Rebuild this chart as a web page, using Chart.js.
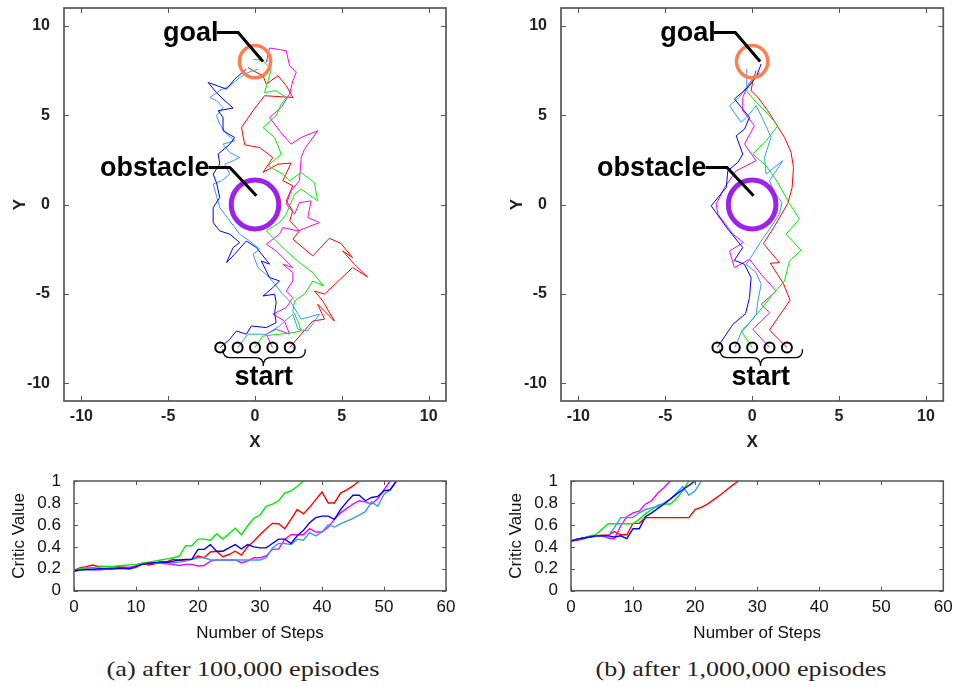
<!DOCTYPE html>
<html>
<head>
<meta charset="utf-8">
<script src="https://cdn.jsdelivr.net/npm/chart.js@4.4.0/dist/chart.umd.min.js"></script>
<style>
    body { margin: 0; background: #fff; width: 958px; height: 687px; position: relative; overflow: hidden; }
    canvas { position: absolute; }
    .cap { position: absolute; font-family: 'Liberation Serif', serif; font-size: 22px; color: #222; white-space: nowrap; transform-origin: center; }
</style>
</head>
<body>
<canvas id="trajA" width="470" height="460" style="left:0;top:0"></canvas>
<canvas id="trajB" width="461" height="460" style="left:497px;top:0"></canvas>
<canvas id="criticA" width="470" height="180" style="left:0;top:470px"></canvas>
<canvas id="criticB" width="461" height="180" style="left:497px;top:470px"></canvas>
<div class="cap" data-w="273" style="left:242.5px;top:669px">(a) after 100,000 episodes</div>
<div class="cap" data-w="291" style="left:741px;top:669px">(b) after 1,000,000 episodes</div>

<script>
// ---- tick labels ----
const trajTicks = [-10, -5, 0, 5, 10];
const stepTicks = [0, 10, 20, 30, 40, 50, 60];
const criticTicks = [0, 0.2, 0.4, 0.6, 0.8, 1];

// ---- start positions ----
const startPts = [[-2, -8], [-1, -8], [0, -8], [1, -8], [2, -8]];

// ---- trajectories after 100,000 episodes (x, y) ----
const blueA = [[-2,-8],[-1.45,-7.54],[-1.07,-7.08],[-0.5,-7.26],[-0.21,-6.8],[0.65,-6.89],[1.22,-6.61],[1.13,-6.05],[1.22,-5.49],[1.13,-5.02],[0.46,-5.12],[1.03,-4.65],[1.41,-4.28],[0.84,-4.09],[0.36,-3.16],[0.84,-3.34],[0.08,-2.41],[-0.5,-2.04],[-1.17,-2.78],[-1.64,-3.25],[-1.26,-2.41],[-0.88,-2.13],[-1.45,-1.66],[-2.03,-1.48],[-2.41,-1.01],[-2.41,-0.17],[-2.03,0.39],[-2.22,1.23],[-2.41,1.7],[-2.03,2.26],[-2.12,2.82],[-1.45,3.38],[-1.17,3.75],[-1.84,4.13],[-1.84,4.87],[-2.12,5.25],[-1.26,5.4],[-1.84,5.9],[-2.22,6.27],[-2.7,6.83],[-1.64,6.46],[-1.17,7.02],[-0.5,7.58]];
const lightBlueA = [[-1,-8],[-0.4,-7.26],[0.65,-7.26],[1.41,-6.8],[2.18,-6.14],[2.47,-6.98],[3.04,-7.08],[3.71,-6.14],[2.66,-6.42],[2.08,-5.49],[1.6,-5.02],[1.22,-4.56],[0.75,-4.0],[0.17,-3.53],[-0.11,-2.78],[0.27,-2.5],[-0.31,-2.04],[-0.88,-1.66],[-1.45,-0.92],[-2.03,-0.17],[-2.41,1.14],[-1.93,1.33],[-1.45,1.7],[-1.74,2.26],[-1.26,2.45],[-0.88,2.63],[-1.45,2.91],[-1.84,3.38],[-1.17,3.57],[-1.64,3.94],[-2.03,4.5],[-2.22,4.97],[-1.84,5.43],[-2.22,5.81],[-2.6,5.99],[-2.03,6.37],[-1.45,6.65],[-0.88,7.11],[-0.4,7.39],[0.17,7.58]];
const greenA = [[0,-8],[0.46,-7.36],[1.41,-7.26],[2.18,-7.17],[2.66,-7.08],[2.47,-6.52],[2.18,-5.96],[2.28,-5.4],[2.85,-5.02],[3.33,-4.28],[3.94,-4.56],[3.33,-3.81],[2.56,-3.25],[1.8,-2.6],[1.03,-1.85],[0.65,-1.48],[1.41,-1.01],[1.8,-0.54],[2.28,0.58],[2.66,0.86],[3.61,0.2],[3.42,1.23],[2.66,1.79],[1.99,1.33],[1.6,1.7],[0.75,2.17],[1.51,2.82],[1.13,3.75],[0.46,4.31],[1.22,4.97],[1.51,5.62],[1.8,5.99],[1.22,6.37],[0.55,6.27],[0.75,6.93],[0.94,7.58],[0.46,8.05],[-0.11,8.14]];
const magentaA = [[1,-8],[0.65,-7.26],[1.22,-6.98],[1.99,-7.26],[1.7,-6.52],[1.03,-6.14],[1.8,-5.77],[2.18,-5.21],[1.8,-4.84],[2.18,-4.28],[2.18,-3.81],[1.6,-3.34],[2.18,-3.53],[1.22,-2.6],[0.65,-2.22],[1.41,-1.66],[1.6,-1.29],[2.47,-1.48],[3.71,-1.01],[3.04,-0.73],[3.23,0.2],[2.56,0.11],[2.28,-0.54],[1.8,0.02],[2.08,0.77],[2.56,1.33],[2.66,2.63],[2.85,3.1],[3.61,4.13],[2.66,3.75],[2.08,3.38],[1.41,4.13],[0.84,4.87],[1.51,5.43],[1.99,6.18],[2.18,6.93],[2.37,7.39],[1.99,7.77],[1.8,8.61],[0.84,8.76],[0.65,7.96]];
const redA = [[2,-8],[2.66,-7.26],[3.33,-6.52],[4.0,-6.42],[3.61,-5.58],[4.57,-6.52],[3.9,-5.4],[3.42,-4.84],[4.0,-5.02],[5.62,-3.53],[6.48,-4.05],[5.72,-3.34],[5.05,-2.6],[5.62,-2.97],[4.95,-2.18],[4.28,-1.89],[3.33,-2.88],[2.18,-1.94],[2.56,-1.48],[2.0,-0.92],[2.18,-0.35],[1.8,0.2],[2.18,1.05],[1.6,1.33],[2.08,2.32],[1.32,2.26],[0.46,1.79],[1.03,2.63],[0.27,3.19],[-0.59,3.34],[-0.78,4.31],[-0.11,5.25],[0.55,6.09],[2.18,5.99],[1.8,6.65],[1.32,7.21],[0.65,6.74],[0.46,7.21],[-0.11,7.49],[-0.4,7.67]];

// ---- trajectories after 1,000,000 episodes (x, y) ----
const blueB = [[-2,-8],[-1.11,-6.71],[-0.38,-6.11],[-0.15,-5.21],[-0.06,-4.09],[-0.44,-3.35],[-1.02,-3.12],[-0.54,-2.41],[-1.4,-1.38],[-2.36,-0.07],[-1.49,0.95],[-1.4,1.89],[-0.82,2.36],[-0.54,2.82],[-0.92,3.85],[-0.44,4.22],[-0.15,4.88],[-0.63,5.44],[-1.02,5.91],[-0.34,6.47],[0.23,7.12],[0.52,7.87]];
const lightBlueB = [[-1,-8],[-0.63,-7.18],[-0.15,-6.62],[0.23,-6.15],[0.33,-5.4],[0.52,-4.47],[0.23,-3.81],[-0.34,-3.35],[0.04,-2.79],[0.52,-2.04],[1.0,-1.38],[1.57,-0.54],[1.72,0.11],[1.28,0.67],[1.0,1.33],[1.76,2.45],[0.8,1.7],[0.71,2.64],[1.09,3.76],[0.61,4.79],[0.23,5.53],[-0.25,4.97],[-0.63,4.6],[-1.3,5.53],[-0.73,6.0],[-0.34,6.56],[-0.31,7.59]];
const greenB = [[0,-8],[-0.63,-7.08],[-0.15,-6.62],[0.42,-5.96],[1.19,-5.03],[1.86,-4.28],[2.15,-3.16],[2.82,-2.56],[1.95,-1.66],[2.72,-0.82],[2.05,0.21],[1.48,1.23],[0.8,2.17],[0.04,2.82],[0.8,3.57],[1.48,4.41],[0.9,5.07],[0.23,5.72],[-0.34,6.37],[0.04,6.93],[0.42,7.4]];
const magentaB = [[1,-8],[0.04,-6.99],[1.0,-6.06],[0.52,-5.59],[1.38,-4.84],[0.52,-3.91],[-0.15,-3.07],[-1.02,-3.53],[-1.3,-2.6],[-0.5,-2.13],[-1.11,-1.66],[-1.97,-0.54],[-2.07,0.02],[-1.59,0.95],[-0.92,1.89],[0.23,2.45],[-0.44,3.38],[0.13,4.41],[-0.54,5.25],[-0.54,6.0],[-0.25,6.65],[0.13,7.21]];
const redB = [[2,-8],[1.0,-7.03],[2.18,-5.36],[1.8,-4.43],[1.05,-3.29],[1.57,-3.25],[0.65,-2.19],[1.28,-1.23],[2.05,0.06],[2.3,0.95],[2.38,2.07],[2.24,2.92],[1.86,3.76],[1.38,4.5],[0.9,5.25],[0.33,6.0],[-0.06,6.37],[0.04,6.93],[0.23,7.5]];

// ---- critic value per step, after 100,000 episodes ----
const greenCriticA = [0.185,0.2,0.21,0.21,0.215,0.22,0.22,0.225,0.23,0.235,0.24,0.25,0.26,0.27,0.28,0.29,0.3,0.316,0.41,0.41,0.47,0.47,0.46,0.52,0.47,0.52,0.57,0.51,0.59,0.66,0.69,0.77,0.79,0.82,0.89,0.91,0.95,1.0];
const redCriticA = [0.185,0.21,0.22,0.234,0.22,0.22,0.215,0.22,0.215,0.21,0.225,0.25,0.234,0.246,0.264,0.264,0.286,0.277,0.28,0.286,0.316,0.3,0.353,0.36,0.31,0.33,0.36,0.325,0.4,0.45,0.51,0.565,0.614,0.61,0.565,0.65,0.74,0.7,0.76,0.83,0.9,0.8,0.8,0.89,0.92,0.955,1.0];
const blueCriticA = [0.18,0.19,0.195,0.195,0.2,0.2,0.2,0.205,0.205,0.2,0.22,0.24,0.25,0.255,0.26,0.26,0.27,0.28,0.286,0.286,0.377,0.377,0.42,0.36,0.36,0.39,0.42,0.38,0.42,0.4,0.39,0.39,0.43,0.47,0.47,0.43,0.5,0.55,0.62,0.666,0.68,0.68,0.65,0.74,0.81,0.87,0.87,0.82,0.85,0.86,0.91,0.92,1.0];
const lightBlueCriticA = [0.18,0.185,0.19,0.19,0.19,0.195,0.195,0.2,0.2,0.2,0.21,0.24,0.25,0.25,0.25,0.255,0.255,0.26,0.27,0.286,0.3,0.3,0.28,0.28,0.28,0.28,0.28,0.28,0.28,0.28,0.28,0.3,0.39,0.43,0.43,0.42,0.47,0.46,0.53,0.5,0.535,0.6,0.58,0.61,0.635,0.66,0.69,0.72,0.81,0.77,0.88,0.92,1.0];
const magentaCriticA = [0.18,0.19,0.19,0.19,0.19,0.195,0.2,0.205,0.21,0.215,0.22,0.24,0.25,0.25,0.25,0.245,0.24,0.23,0.24,0.24,0.225,0.23,0.27,0.28,0.28,0.28,0.28,0.255,0.27,0.3,0.3,0.316,0.377,0.38,0.47,0.51,0.51,0.51,0.565,0.535,0.535,0.58,0.65,0.71,0.75,0.79,0.82,0.81,0.79,0.84,0.92,1.0];

// ---- critic value per step, after 1,000,000 episodes ----
const redCriticB = [0.453,0.46,0.474,0.49,0.5,0.505,0.505,0.54,0.51,0.51,0.614,0.614,0.666,0.666,0.666,0.666,0.666,0.666,0.666,0.666,0.74,0.76,0.79,0.83,0.87,0.915,0.96,1.0];
const greenCriticB = [0.453,0.47,0.48,0.5,0.51,0.56,0.61,0.61,0.61,0.61,0.61,0.65,0.7,0.74,0.78,0.79,0.79,0.84,0.91,1.0];
const blueCriticB = [0.453,0.47,0.48,0.49,0.5,0.5,0.5,0.49,0.5,0.474,0.565,0.565,0.675,0.71,0.75,0.79,0.835,0.88,0.92,0.96,1.0];
const lightBlueCriticB = [0.453,0.47,0.48,0.49,0.5,0.5,0.5,0.575,0.666,0.666,0.666,0.71,0.74,0.755,0.77,0.8,0.835,0.89,0.95,0.87,0.91,1.0];
const magentaCriticB = [0.453,0.47,0.48,0.49,0.495,0.5,0.48,0.474,0.59,0.675,0.71,0.725,0.79,0.82,0.89,0.94,1.0];

// ---- scenery (data coordinates) ----
const goal = { x: 0, y: 8, r: 0.9 };
const obstacle = { x: 0, y: 0, r: 1.37 };

const colors = { blue: '#0000ff', lightBlue: '#3399ff', green: '#00ee00', magenta: '#ff00ff', red: '#ff0000' };
const sans = "'Liberation Sans', Arial, sans-serif";

// frame with inward ticks on all four sides
const framePlugin = {
    id: 'frame',
    afterDraw(chart, args, opts) {
        const { ctx, chartArea: a, scales: { x, y } } = chart;
        ctx.save();
        ctx.strokeStyle = opts.color;
        ctx.lineWidth = 1;
        ctx.beginPath();
        x.ticks.forEach(t => {
            const px = Math.round(x.getPixelForValue(t.value)) + 0.5;
            ctx.moveTo(px, a.bottom); ctx.lineTo(px, a.bottom - opts.len);
            ctx.moveTo(px, a.top); ctx.lineTo(px, a.top + opts.len);
        });
        y.ticks.forEach(t => {
            const py = Math.round(y.getPixelForValue(t.value)) + 0.5;
            ctx.moveTo(a.left, py); ctx.lineTo(a.left + opts.len, py);
            ctx.moveTo(a.right, py); ctx.lineTo(a.right - opts.len, py);
        });
        ctx.stroke();
        ctx.lineWidth = opts.width;
        ctx.strokeRect(a.left, a.top, a.right - a.left, a.bottom - a.top);
        ctx.restore();
    }
};

// goal, obstacle, start brace and the labels
const sceneryPlugin = {
    id: 'scenery',
    afterDatasetsDraw(chart) {
        const { ctx, scales: { x, y } } = chart;
        const px = v => x.getPixelForValue(v);
        const py = v => y.getPixelForValue(v);
        ctx.save();

        [[goal, '#ff7f50', 3.5], [obstacle, '#a020f0', 5]].forEach(([c, col, lw]) => {
            ctx.beginPath();
            ctx.ellipse(px(c.x), py(c.y), px(c.r) - px(0), py(0) - py(c.r), 0, 0, Math.PI * 2);
            ctx.strokeStyle = col;
            ctx.lineWidth = lw;
            ctx.stroke();
        });

        ctx.strokeStyle = '#000';
        ctx.lineWidth = 3;
        ctx.lineCap = 'butt';
        ctx.beginPath();
        ctx.moveTo(px(-2.2), py(9.63)); ctx.lineTo(px(-0.97), py(9.63)); ctx.lineTo(px(0.46), py(8.0));
        ctx.moveTo(px(-2.66), py(2.07)); ctx.lineTo(px(-1.45), py(2.07)); ctx.lineTo(px(0.08), py(0.49));
        ctx.stroke();

        // curly brace under the start points
        const L = px(-1.85), R = px(2.9), C = px(0.48);
        const top = py(-8.1), mid = py(-8.57), tip = py(-9.04), d = 7;
        ctx.lineWidth = 1.3;
        ctx.beginPath();
        ctx.moveTo(L, top);
        ctx.quadraticCurveTo(L, mid, L + d, mid);
        ctx.lineTo(C - d, mid);
        ctx.quadraticCurveTo(C, mid, C, tip);
        ctx.quadraticCurveTo(C, mid, C + d, mid);
        ctx.lineTo(R - d, mid);
        ctx.quadraticCurveTo(R, mid, R, top);
        ctx.stroke();

        ctx.fillStyle = '#000';
        ctx.font = 'bold 27px ' + sans;
        ctx.textBaseline = 'alphabetic';
        ctx.textAlign = 'right';
        ctx.fillText('goal', px(-2.1), py(9.13));
        ctx.fillText('obstacle', px(-2.62), py(1.61));
        ctx.textAlign = 'center';
        ctx.fillText('start', px(0.5), py(-10.1));
        ctx.restore();
    }
};

function fixedAxis(size, isY) {
    return s => {
        if (isY) s.width = size; else s.height = size;
        s.paddingTop = s.paddingBottom = s.paddingLeft = s.paddingRight = 0;
    };
}

function trajChart(id, sets, rightPad) {
    const lines = sets.map(([pts, col]) => ({
        data: pts.map(p => ({ x: p[0], y: p[1] })),
        showLine: true, borderColor: col, borderWidth: 1, pointRadius: 0, fill: false
    }));
    const tickFont = { family: sans, size: 16, weight: 'bold' };
    const titleFont = { family: sans, size: 17, weight: 'bold' };
    return new Chart(document.getElementById(id), {
        type: 'scatter',
        data: {
            datasets: [{
                data: startPts.map(p => ({ x: p[0], y: p[1] })),
                pointRadius: 5, pointBorderWidth: 2, pointBorderColor: '#000',
                pointBackgroundColor: 'rgba(0,0,0,0)', showLine: false
            }, ...lines]
        },
        options: {
            responsive: false, animation: false, events: [],
            layout: { padding: { top: 8, right: rightPad, left: 0, bottom: 0 } },
            plugins: { legend: { display: false }, tooltip: { enabled: false }, frame: { color: '#555', width: 1.7, len: 5 } },
            scales: {
                x: {
                    type: 'linear', min: -11, max: 11,
                    afterBuildTicks: s => { s.ticks = trajTicks.map(v => ({ value: v })); },
                    afterFit: fixedAxis(59, false),
                    grid: { display: false, drawTicks: false }, border: { display: false },
                    ticks: { font: tickFont, color: '#222', padding: 6, autoSkip: false, maxRotation: 0, callback: v => String(v) },
                    title: { display: true, text: 'X', font: titleFont, color: '#222', padding: { top: 0, bottom: 7.8 } }
                },
                y: {
                    type: 'linear', min: -11, max: 11,
                    afterBuildTicks: s => { s.ticks = trajTicks.map(v => ({ value: v })); },
                    afterFit: fixedAxis(64, true),
                    grid: { display: false, drawTicks: false }, border: { display: false },
                    ticks: { font: tickFont, color: '#222', padding: 14, autoSkip: false, callback: v => String(v) },
                    title: { display: true, text: 'Y', font: titleFont, color: '#222', padding: { top: 9.8, bottom: 0 } }
                }
            }
        },
        plugins: [framePlugin, sceneryPlugin]
    });
}

function criticChart(id, sets, rightPad) {
    const lines = sets.map(([vals, col]) => ({
        data: vals.map((v, i) => ({ x: i, y: v })),
        borderColor: col, borderWidth: 1.4, pointRadius: 0, fill: false, tension: 0
    }));
    const tickFont = { family: sans, size: 17 };
    return new Chart(document.getElementById(id), {
        type: 'line',
        data: { datasets: lines },
        options: {
            responsive: false, animation: false, events: [],
            layout: { padding: { top: 11, right: rightPad, left: 0, bottom: 0 } },
            plugins: { legend: { display: false }, tooltip: { enabled: false }, frame: { color: '#555', width: 1.5, len: 4 } },
            scales: {
                x: {
                    type: 'linear', min: 0, max: 60,
                    afterBuildTicks: s => { s.ticks = stepTicks.map(v => ({ value: v })); },
                    afterFit: fixedAxis(59.3, false),
                    grid: { display: false, drawTicks: false }, border: { display: false },
                    ticks: { font: tickFont, color: '#111', padding: 6, autoSkip: false, maxRotation: 0, callback: v => String(v) },
                    title: { display: true, text: 'Number of Steps', font: tickFont, color: '#111', padding: { top: 0, bottom: 6.8 } }
                },
                y: {
                    type: 'linear', min: 0, max: 1,
                    afterBuildTicks: s => { s.ticks = criticTicks.map(v => ({ value: v })); },
                    afterFit: fixedAxis(74, true),
                    grid: { display: false, drawTicks: false }, border: { display: false },
                    ticks: { font: tickFont, color: '#111', padding: 13, autoSkip: false, callback: v => String(v) },
                    title: { display: true, text: 'Critic Value', font: tickFont, color: '#111', padding: { top: 8.8, bottom: 0 } }
                }
            }
        },
        plugins: [framePlugin]
    });
}

trajChart('trajA', [[blueA, colors.blue], [lightBlueA, colors.lightBlue], [greenA, colors.green], [magentaA, colors.magenta], [redA, colors.red]], 24);
trajChart('trajB', [[blueB, colors.blue], [lightBlueB, colors.lightBlue], [greenB, colors.green], [magentaB, colors.magenta], [redB, colors.red]], 14.7);
criticChart('criticA', [[blueCriticA, colors.blue], [lightBlueCriticA, colors.lightBlue], [greenCriticA, colors.green], [magentaCriticA, colors.magenta], [redCriticA, colors.red]], 24);
criticChart('criticB', [[blueCriticB, colors.blue], [lightBlueCriticB, colors.lightBlue], [greenCriticB, colors.green], [magentaCriticB, colors.magenta], [redCriticB, colors.red]], 14.7);

// stretch the captions to the reference width
document.querySelectorAll('.cap').forEach(el => {
    const w = el.getBoundingClientRect().width;
    el.style.transform = `translate(-50%, -50%) scaleX(${el.dataset.w / w})`;
});
</script>
</body>
</html>
